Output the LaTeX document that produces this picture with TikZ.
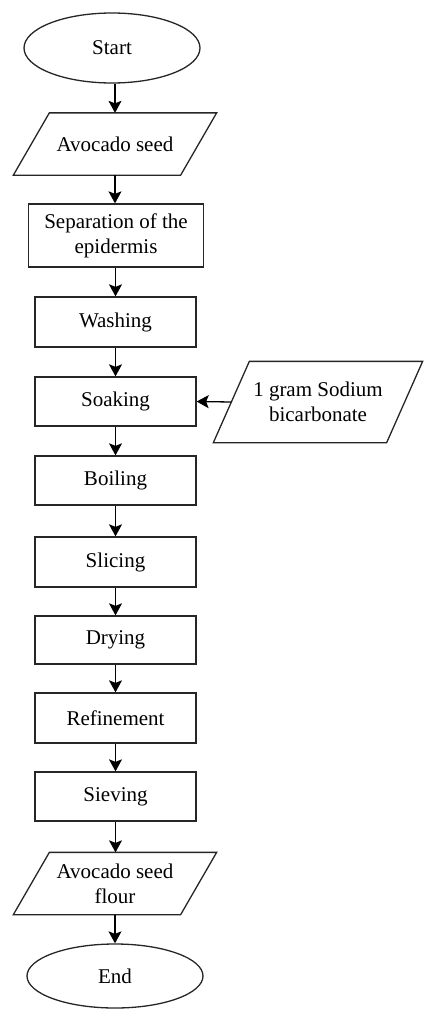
\documentclass[tikz,border=0pt]{standalone}
\usepackage{fontspec}
\setmainfont{Liberation Serif}
\newfontfamily\tnrfont{Liberation Serif}
\usetikzlibrary{shapes.geometric,arrows.meta}
\tikzset{
  base/.style={font=\tnrfont\fontsize{21}{25}\selectfont, align=center, inner sep=0pt, line width=1.3pt, draw=black!85},
  term/.style={base, draw, ellipse, minimum width=176pt, minimum height=70pt},
  proc/.style={base, draw, rectangle, minimum width=161pt, minimum height=50pt},
  io/.style={base, draw=none, minimum width=166pt, minimum height=61pt},
  arr/.style={line width=1.3pt, -{Stealth[length=12pt, width=13pt, inset=2.5pt]}},
  para/.style={line width=1.3pt, draw=black!85}
}
\newcommand{\paral}[2]{% node name, slant half-offset
  \draw[para] ([xshift=#2]#1.north west) -- ([xshift=#2]#1.north east) -- ([xshift=-#2]#1.south east) -- ([xshift=-#2]#1.south west) -- cycle;}
\begin{document}
\begin{tikzpicture}[x=1pt,y=-1pt]
\useasboundingbox (0,0) rectangle (423,1009);
\node[term] (start) at (112,48) {Start};
\node[io] (seed) at (115,144) {Avocado seed};
\paral{seed}{18pt}
\node[proc, minimum width=175pt, minimum height=63pt] (sep) at (116,235.5) {Separation of the\\epidermis};
\node[proc] (wash) at (115.5,322) {Washing};
\node[proc, minimum height=49pt] (soak) at (115.5,401.5) {Soaking};
\node[io, minimum width=172pt, minimum height=80pt] (soda) at (318,402) {1 gram Sodium\\bicarbonate};
\paral{soda}{18pt}
\node[proc, minimum height=49pt] (boil) at (115.5,480.5) {Boiling};
\node[proc] (slice) at (115.5,562) {Slicing};
\node[proc, minimum height=48pt] (dry) at (115.5,640) {Drying};
\node[proc] (refine) at (115.5,718) {Refinement};
\node[proc, minimum height=49pt] (sieve) at (115.5,796.5) {Sieving};
\node[io] (flour) at (115,883.5) {Avocado seed\\flour};
\paral{flour}{18pt}
\node[term, minimum height=64pt] (end) at (115,976) {End};

\draw[arr] (start.south -| seed.north) -- (seed.north);
\draw[arr] (seed.south) -- (seed.south |- sep.north);
\draw[arr] (sep.south -| wash.north) -- (wash.north);
\draw[arr] (wash.south) -- (soak.north);
\draw[arr] (soak.south) -- (boil.north);
\draw[arr] (boil.south) -- (slice.north);
\draw[arr] (slice.south) -- (dry.north);
\draw[arr] (dry.south) -- (refine.north);
\draw[arr] (refine.south) -- (sieve.north);
\draw[arr] (sieve.south) -- (sieve.south |- flour.north);
\draw[arr] (flour.south) -- (flour.south |- end.north);
\draw[arr] (soda.west) -- (soak.east);
\end{tikzpicture}
\end{document}
